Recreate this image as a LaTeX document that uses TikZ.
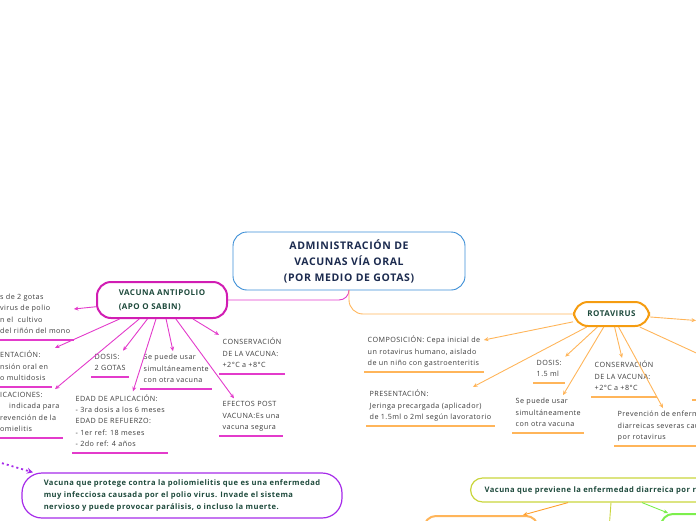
\documentclass[tikz,border=0pt]{standalone}
\usepackage{fontspec}
\setmainfont{Open Sans}[LetterSpace=6]
\usetikzlibrary{arrows.meta}

\definecolor{titleBlue}{HTML}{3B8ED6}
\definecolor{titleText}{HTML}{1C2B4F}
\definecolor{nodeText}{HTML}{1E4A3C}
\definecolor{leafText}{HTML}{3C3C3C}
\definecolor{polioMag}{HTML}{D11DB3}
\definecolor{polioLine}{HTML}{E33BCB}
\definecolor{rotaOrange}{HTML}{F59C10}
\definecolor{rotaLine}{HTML}{FFB55A}
\definecolor{descPurple}{HTML}{A62BE9}
\definecolor{descOlive}{HTML}{C9D53C}
\definecolor{descGreen}{HTML}{7CEF4C}
\definecolor{descOrange}{HTML}{FF9F2E}

\begin{document}
\begin{tikzpicture}[x=1pt, y=-1pt, >={Stealth[length=4.5pt,width=4pt]},
  leaf/.style={anchor=south west, align=left, inner xsep=3.5pt, inner ysep=3pt,
    font=\fontsize{7.2}{11.3}\selectfont, text=leafText,
    execute at begin node=\strut, execute at end node=\strut},
  branch/.style={draw=#1, line width=2pt, rounded corners=14pt, align=left,
    font=\bfseries\fontsize{8}{13.5}\selectfont, text=nodeText},
  plink/.style={->, draw=polioLine, line width=0.9pt},
  rlink/.style={->, draw=rotaLine, line width=0.9pt}]
  \useasboundingbox (0,0) rectangle (696,520);
  \clip (0,0) rectangle (696,520);

  % central topic
  \node[draw=titleBlue, line width=0.9pt, rounded corners=14pt, minimum width=232pt,
    minimum height=58pt, align=center, text=titleText,
    font=\bfseries\fontsize{10.5}{16}\selectfont] (title) at (349,261)
    {ADMINISTRACIÓN DE\\VACUNAS VÍA ORAL\\(POR MEDIO DE GOTAS)};

  % main branches
  \node[branch=polioMag, minimum width=130pt, minimum height=36pt] (polio) at (162,300)
    {VACUNA ANTIPOLIO\\(APO O SABIN)};
  \node[branch=rotaOrange, minimum width=75pt, minimum height=24pt] (rota) at (611.5,314)
    {ROTAVIRUS};

  \draw[polioLine, line width=0.9pt, rounded corners=10pt] (title.south) |- (polio.east);
  \draw[rotaLine, line width=0.9pt, rounded corners=14pt] (title.south) |- (rota.west);

  % polio leaves
  \node[leaf] (pComp) at (-3.5,340) {s de 2 gotas\\virus de polio\\n el\ \ cultivo\\del riñón del mono};
  \node[leaf] (pPres) at (-3.5,387) {ENTACIÓN:\\nsión oral en\\o multidosis};
  \node[leaf] (pIndic) at (-3.5,438) {ICACIONES:\\\hspace{9pt}indicada para\\revención de la\\omielitis};
  \node[leaf] (pDosis) at (91,377) {DOSIS:\\2 GOTAS};
  \node[leaf] (pSimul) at (140,389) {Se puede usar\\simultáneamente\\con otra vacuna};
  \node[leaf] (pCons) at (219,374) {CONSERVACIÓN\\DE LA VACUNA:\\+2°C a +8°C};
  \node[leaf] (pEdad) at (72,453) {EDAD DE APLICACIÓN:\\- 3ra dosis a los 6 meses\\EDAD DE REFUERZO:\\- 1er ref: 18 meses\\- 2do ref: 4 años};
  \node[leaf] (pEfec) at (219,436) {EFECTOS POST\\VACUNA:Es una\\vacuna segura};

  \foreach \n in {pComp, pPres, pIndic, pDosis, pSimul, pCons, pEdad, pEfec}
    \draw[polioLine, line width=1.3pt] (\n.south west) -- (\n.south east);

  \draw[plink] (polio) -- (pComp.east |- 0,309);
  \draw[plink] (polio) -- (55,0 |- pPres.north);
  \draw[plink] (polio) -- (55,0 |- pIndic.north);
  \draw[plink] (polio) -- (123,0 |- pDosis.north);
  \draw[plink] (polio) -- (173,0 |- pSimul.north);
  \draw[plink] (polio) -- (pCons.north west);
  \draw[plink] (polio) -- (133,0 |- pEdad.north);
  \draw[plink] (polio) -- (234,0 |- pEfec.north);

  % rotavirus leaves
  \node[leaf] (rComp) at (364,372) {COMPOSICIÓN: Cepa inicial de\\un rotavirus humano, aislado\\de un niño con gastroenteritis};
  \node[leaf] (rPres) at (366,426) {PRESENTACIÓN:\\Jeringa precargada (aplicador)\\de 1.5ml o 2ml según lavoratorio};
  \node[leaf] (rDosis) at (533,383) {DOSIS:\\1.5 ml};
  \node[leaf] (rSimul) at (512,433) {Se puede usar\\simultáneamente\\con otra vacuna};
  \node[leaf] (rCons) at (591,397) {CONSERVACIÓN\\DE LA VACUNA:\\+2°C a +8°C};
  \node[leaf] (rPrev) at (614,446) {Prevención de enfermedades\\diarreicas severas causadas\\por rotavirus};
  \coordinate (rRight) at (696,320.5);
  \coordinate (rFar) at (705,357);
  \coordinate (rFarLine) at (692,400);

  \foreach \n in {rComp, rPres, rDosis, rSimul, rCons, rPrev}
    \draw[rotaLine, line width=1.3pt] (\n.south west) -- (\n.south east);
  \draw[rotaLine, line width=1.3pt] (rFarLine) -- +(10,0);

  \draw[rlink] (rota) -- (rComp.east |- 0,340);
  \draw[rlink] (rota) -- (473,0 |- rPres.north);
  \draw[rlink] (rota) -- (rDosis.north east);
  \draw[rlink] (rota) -- (563,0 |- rSimul.north);
  \draw[rlink] (rota) -- (622,0 |- rCons.north);
  \draw[rlink] (rota) -- (663,0 |- rPrev.north);
  \draw[rlink] (rota) -- (rRight);
  \draw[rlink] (rota) -- (rFar);

  % descriptions
  \node[draw=descPurple, line width=1.2pt, rounded corners=20pt, minimum width=320pt,
    minimum height=45pt, align=left, text=nodeText,
    font=\bfseries\fontsize{7.6}{11.6}\selectfont] (pDesc) at (182,495.5)
    {Vacuna que protege contra la poliomielitis que es una enfermedad\\muy infecciosa causada por el polio virus. Invade el sistema\\nervioso y puede provocar parálisis, o incluso la muerte.};
  \coordinate (pOff) at (-22,456);
  \draw[->, >={Stealth[length=6pt,width=6pt]}, descPurple, line width=1.8pt,
    dash pattern=on 2pt off 3pt] (pOff) -- (33,0 |- pDesc.north);

  \node[draw=descOlive, line width=1.2pt, rounded corners=12pt, minimum height=24pt,
    anchor=west, inner xsep=14pt, text=nodeText,
    font=\bfseries\fontsize{7.6}{11.6}\selectfont] (rDesc) at (470,490)
    {Vacuna que previene la enfermedad diarreica por rotavirus};
  \node[draw=rotaLine, line width=2pt, rounded corners=12pt, minimum width=114pt,
    minimum height=30pt, anchor=north west] (rSubA) at (423,515) {};
  \node[draw=descGreen, line width=2pt, rounded corners=12pt, minimum width=80pt,
    minimum height=30pt, anchor=north west] (rSubB) at (660,513) {};
  \coordinate (rSubC) at (609,530);

  \draw[->, descOrange, line width=0.9pt] (568,0 |- rDesc.south) -- (523,0 |- rSubA.north);
  \draw[->, descGreen, line width=0.9pt] (642,0 |- rDesc.south) -- (668,0 |- rSubB.north);
  \draw[descOlive, line width=0.9pt] (611,0 |- rDesc.south) -- (rSubC);
\end{tikzpicture}
\end{document}
